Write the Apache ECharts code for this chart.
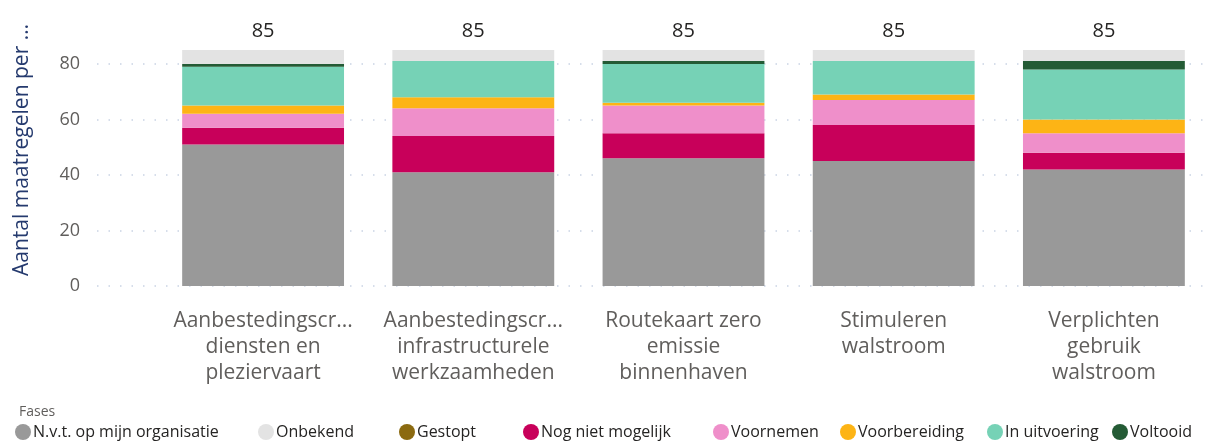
<!DOCTYPE html>
<html lang="nl">
<head>
    <meta charset="UTF-8">
    <title>Fases per maatregel</title>
    <script src="https://cdn.jsdelivr.net/npm/echarts@6/dist/echarts.min.js"></script>
    <style>
        body { margin: 0; background: #fff; }
        #chart { width: 1211px; height: 441px; }
    </style>
</head>
<body>
<div id="chart"></div>
<script type="text/javascript">
    let categories = [
        'Aanbestedingscr...\ndiensten en\npleziervaart',
        'Aanbestedingscr...\ninfrastructurele\nwerkzaamheden',
        'Routekaart zero\nemissie\nbinnenhaven',
        'Stimuleren\nwalstroom',
        'Verplichten\ngebruik\nwalstroom'
    ];

    // waarden per fase (van onder naar boven gestapeld)
    let nvt = [51, 41, 46, 45, 42];
    let nogNiet = [6, 13, 9, 13, 6];
    let voornemen = [5, 10, 10, 9, 7];
    let voorbereiding = [3, 4, 1, 2, 5];
    let inUitvoering = [14, 13, 14, 12, 18];
    let gestopt = [0, 0, 0, 0, 0];
    let voltooid = [1, 0, 1, 0, 3];
    let onbekend = [5, 4, 4, 4, 4];

    let yTicks = [0, 20, 40, 60, 80];

    let totals = [];
    for (let i = 0; i < categories.length; i++) {
        totals.push(nvt[i] + nogNiet[i] + voornemen[i] + voorbereiding[i] +
            inUitvoering[i] + gestopt[i] + voltooid[i] + onbekend[i]);
    }

    let font = "'Segoe UI', 'Open Sans', sans-serif";

    let fases = [
        {name: 'N.v.t. op mijn organisatie', data: nvt, color: '#999999'},
        {name: 'Nog niet mogelijk', data: nogNiet, color: '#c8005a'},
        {name: 'Voornemen', data: voornemen, color: '#ef8fca'},
        {name: 'Voorbereiding', data: voorbereiding, color: '#fdb415'},
        {name: 'In uitvoering', data: inUitvoering, color: '#76d2b6'},
        {name: 'Gestopt', data: gestopt, color: '#8b6a10'},
        {name: 'Voltooid', data: voltooid, color: '#245b35'},
        {name: 'Onbekend', data: onbekend, color: '#e3e3e3'}
    ];

    let legendOrder = ['N.v.t. op mijn organisatie', 'Onbekend', 'Gestopt', 'Nog niet mogelijk',
        'Voornemen', 'Voorbereiding', 'In uitvoering', 'Voltooid'];
    let legendLeft = [15, 258, 399, 523, 713, 840, 987, 1112];

    let series = [];
    for (let i = 0; i < fases.length; i++) {
        let s = {
            name: fases[i].name,
            type: 'bar',
            stack: 'fase',
            xAxisIndex: 0,
            yAxisIndex: 0,
            barCategoryGap: '23%',
            data: fases[i].data,
            itemStyle: {color: fases[i].color},
            emphasis: {disabled: true}
        };
        if (fases[i].name === 'Onbekend') {
            s.label = {
                show: true,
                position: 'top',
                distance: 9,
                color: '#252423',
                fontSize: 20,
                fontFamily: font,
                formatter: function (p) {
                    return totals[p.dataIndex];
                }
            };
        }
        series.push(s);
    }

    let legends = [];
    for (let i = 0; i < legendOrder.length; i++) {
        legends.push({
            data: [legendOrder[i]],
            left: legendLeft[i],
            top: 424,
            icon: 'circle',
            itemWidth: 16,
            itemHeight: 16,
            padding: 0,
            selectedMode: false,
            textStyle: {color: '#252423', fontSize: 16, fontFamily: font, padding: [0, 0, 0, -3]}
        });
    }

    let chart = echarts.init(document.getElementById('chart'));
    let option = {
        animation: false,
        color: fases.map(function (f) { return f.color; }),
        title: {
            text: 'Fases',
            left: 14,
            top: 400,
            textStyle: {color: '#605e5c', fontSize: 14, fontWeight: 'normal', fontFamily: font}
        },
        legend: legends,
        grid: [
            {left: 158, right: 2, top: 50, bottom: 155},
            {left: 97, right: 8, top: 50, bottom: 155}
        ],
        xAxis: [
            {
                type: 'category',
                gridIndex: 0,
                data: categories,
                axisLine: {show: false},
                axisTick: {show: false},
                axisLabel: {
                    color: '#605e5c',
                    fontSize: 21,
                    lineHeight: 26,
                    margin: 22,
                    fontFamily: font,
                    interval: 0
                }
            },
            {
                type: 'value',
                gridIndex: 1,
                show: false
            }
        ],
        yAxis: [
            {
                type: 'value',
                gridIndex: 0,
                min: 0,
                max: 85,
                show: false
            },
            {
                type: 'value',
                gridIndex: 1,
                min: 0,
                max: 85,
                interval: 20,
                name: 'Aantal maatregelen per …',
                nameLocation: 'middle',
                nameGap: 64,
                nameTextStyle: {color: '#253a6e', fontSize: 21, fontFamily: font, padding: [0, 0, 0, 36]},
                axisLine: {show: false},
                axisTick: {show: false, customValues: yTicks},
                axisLabel: {
                    color: '#605e5c',
                    fontSize: 18,
                    margin: 17,
                    fontFamily: font,
                    customValues: yTicks
                },
                splitLine: {
                    show: true,
                    lineStyle: {color: '#c9d3e4', width: 1.5, type: [1.5, 10]}
                }
            }
        ],
        series: series
    };
    chart.setOption(option);
</script>
</body>
</html>
